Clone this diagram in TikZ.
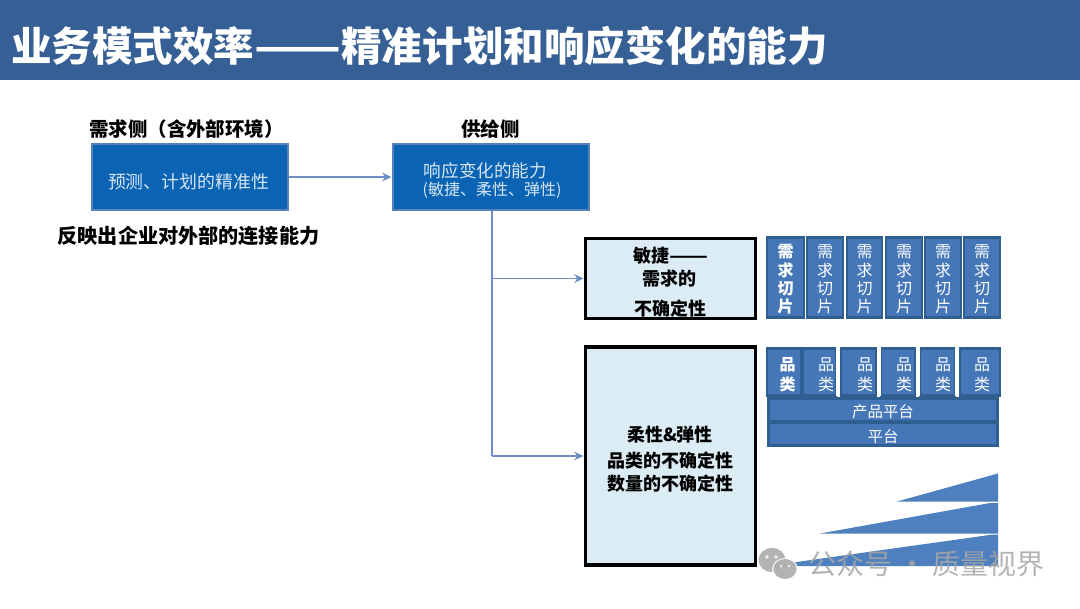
\documentclass[tikz,border=0pt]{standalone}
\usepackage{fontspec}
\usepackage{graphicx}
\setmainfont{Noto Sans CJK SC}
\usetikzlibrary{arrows.meta}
\definecolor{barblue}{HTML}{355F95}
\definecolor{mainblue}{HTML}{0B63B4}
\definecolor{mainedge}{HTML}{5A80B8}
\definecolor{paleblue}{HTML}{DBECF4}
\definecolor{cellblue}{HTML}{4577B8}
\definecolor{celledge}{HTML}{2F5E90}
\definecolor{linkblue}{HTML}{6E8FC2}
\definecolor{wedgeblue}{HTML}{4E7FBE}
\definecolor{lighttext}{HTML}{D6E6F5}
\tikzset{
  x=0.75pt,y=-0.75pt,
  plaintext/.style={inner sep=0pt,font=\fontsize{14.6pt}{18pt}\selectfont\bfseries,text=black},
  mainbox/.style={draw=mainedge,fill=mainblue,line width=1.5pt,inner sep=0pt,minimum width=147pt,minimum height=49pt},
  boxtext/.style={inner sep=0pt,text=lighttext},
  palebox/.style={draw=black,fill=paleblue,line width=2.4pt,inner sep=0pt,minimum width=128pt},
  cellbox/.style={draw=celledge,fill=cellblue,line width=2.2pt,inner sep=0pt},
  celltext/.style={inner sep=0pt,text=white,align=center},
  link/.style={draw=linkblue,line width=1.4pt},
  linkarrow/.style={link,-{Stealth[length=7pt,width=6.5pt]}},
  paletext/.style={inner sep=0pt,font=\fontsize{13.5pt}{16pt}\selectfont\bfseries,text=black},
}
\begin{document}
\begin{tikzpicture}
\useasboundingbox (0,0) rectangle (1080,608);
\fill[barblue] (0,0) rectangle (1080,80);
\node[anchor=west,inner sep=0pt,text=white,font=\fontsize{30.4pt}{36pt}\selectfont\bfseries] (title) at (11,46) {业务模式效率\scalebox{1.25}[1]{——}精准计划和响应变化的能力};

\node[plaintext] (demandhead) at (186.5,129) {需求侧（含外部环境）};
\node[plaintext] (supplyhead) at (490.5,129) {供给侧};
\node[mainbox] (boxA) at (189.5,177) {};
\node[boxtext,font=\fontsize{13.4pt}{16pt}\selectfont] (boxAtext) at (188.5,182) {预测、计划的精准性};
\node[mainbox] (boxB) at (490.5,177) {};
\node[boxtext,font=\fontsize{13.2pt}{16pt}\selectfont] (boxBline) at (485.5,171) {响应变化的能力};
\node[boxtext,font=\fontsize{12pt}{16pt}\selectfont] (boxBsub) at (492,190) {(敏捷、柔性、弹性)};
\node[plaintext,font=\fontsize{15.1pt}{18pt}\selectfont\bfseries] (reflect) at (188.5,236) {反映出企业对外部的连接能力};

\node[palebox,minimum height=60pt] (boxC) at (670.5,278.5) {};
\node[palebox,minimum height=163.5pt] (boxD) at (670.5,456) {};
\node[paletext] (c1) at (670.5,256) {敏捷\scalebox{1.26}[1]{——}};
\node[paletext] (c2) at (669.5,279) {需求的};
\node[paletext] (c3) at (670,309) {不确定性};
\node[paletext] (d1) at (670,435) {柔性\&弹性};
\node[paletext] (d2) at (670.5,461) {品类的不确定性};
\node[paletext] (d3) at (670.5,484) {数量的不确定性};

\coordinate (tap) at ([xshift=1.1pt]boxB.south);
\draw[linkarrow] (boxA.east) -- (boxB.west);
\draw[link] (tap) -- (tap |- boxD.west);
\draw[linkarrow] (tap |- boxC.west) -- (boxC.west);
\draw[linkarrow] (tap |- boxD.west) -- (boxD.west);

% demand slices
\foreach \n/\l/\r/\fw in {1/767/804/\bfseries,2/807/843/,3/847/882/,4/886/922/,5/925/961/,6/964/1000/}{
  \node[cellbox,minimum width={(\r-\l)*0.75pt},minimum height=60pt] (slice\n) at ({(\l+\r)/2},277.5) {};
  \node[celltext,font=\fontsize{12pt}{13.8pt}\selectfont\fw] (slicetext\n) at ({(\l+\r)/2},279.5) {需\\求\\切\\片};
}
% category cells
\foreach \n/\l/\r/\tx/\fw in {1/767/801/787.5/\bfseries,2/803/836/826/,3/841/876/865/,4/881/915/904/,5/920/955/943/,6/960/1000/982/}{
  \node[cellbox,minimum width={(\r-\l)*0.75pt},minimum height=35pt] (kind\n) at ({(\l+\r)/2},372) {};
  \node[celltext,font=\fontsize{12pt}{15pt}\selectfont\fw] (kindtext\n) at (\tx,375) {品\\类};
}
\foreach \x in {838,878.5,917.5,957}{
  \fill[white] (\x-2,347) rectangle (\x+2,396);
}
\node[cellbox,minimum width=172pt,minimum height=17.5pt] (prodplat) at (883,410) {};
\node[cellbox,minimum width=172pt,minimum height=17.5pt] (plat) at (883,434) {};
\node[celltext,font=\fontsize{11.6pt}{14pt}\selectfont] (prodplattext) at (883,411.5) {产品平台};
\node[celltext,font=\fontsize{11.6pt}{14pt}\selectfont] (plattext) at (883,437) {平台};

% wedges
\fill[wedgeblue] (897,501.5) -- (998,473.5) -- (998,501.5) -- cycle;
\fill[wedgeblue] (820,533.5) -- (990,503) -- (998,503) -- (998,533.5) -- cycle;
\fill[wedgeblue] (768,566) -- (993,534.5) -- (998,534.5) -- (998,566) -- cycle;

% watermark
\begin{scope}[opacity=0.85]
\fill[gray!70] (772,560) ellipse [x radius=13.5,y radius=12];
\fill[white] (785,569) ellipse [x radius=13,y radius=11];
\fill[gray!70] (785,569) ellipse [x radius=11.5,y radius=10];
\fill[white] (767,557) circle (1.8) (776,557) circle (1.8) (781,566) circle (1.4) (789,566) circle (1.4);
\node[anchor=west,inner sep=0pt,text=gray!70,font=\fontsize{21pt}{26pt}\selectfont] (mark) at (808,564) {公众号 · 质量视界};
\end{scope}
\end{tikzpicture}
\end{document}
